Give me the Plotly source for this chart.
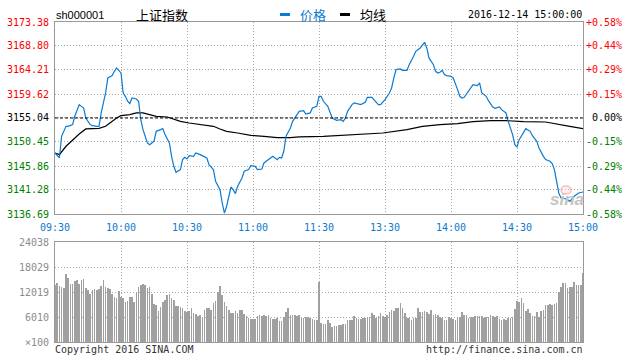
import plotly.graph_objects as go

# ---------------- data ----------------
preclose = 3155.04
price_ticks = [3136.69, 3141.28, 3145.86, 3150.45, 3155.04, 3159.62, 3164.21, 3168.80, 3173.38]
pct_labels = ["-0.58%", "-0.44%", "-0.29%", "-0.15%", "0.00%", "+0.15%", "+0.29%", "+0.44%", "+0.58%"]
time_ticks = [0, 30, 60, 90, 120, 150, 180, 210, 240]
time_labels = ["09:30", "10:00", "10:30", "11:00", "11:30", "13:30", "14:00", "14:30", "15:00"]
vol_ticks = [6010, 12019, 18029, 24038]
vol_labels = ["6010", "12019", "18029", "24038"]

price_min = [0, 2, 3, 5, 6, 8, 9, 11, 13, 14, 16, 17, 19, 20, 21, 23, 24, 26, 27, 28,
             30, 31, 32, 33, 34, 35, 37, 38, 39, 40, 42, 43, 45, 46, 48, 49, 50, 52, 53, 54,
             55, 57, 58, 59, 60, 61, 63, 64, 66, 67, 69, 70, 72, 73, 75, 76, 77, 78, 79, 80,
             81, 82, 83, 85, 86, 88, 89, 91, 92, 94, 95, 98, 99, 101, 102, 103, 104, 105, 107, 108,
             110, 111, 113, 114, 116, 117, 119, 120, 121, 122, 124, 125, 126, 128, 130, 131, 132, 133, 135, 136,
             138, 139, 141, 142, 144, 145, 147, 148, 150, 152, 153, 154, 155, 157, 158, 160, 161, 163, 164, 166,
             167, 168, 169, 170, 172, 173, 174, 175, 176, 177, 178, 180, 181, 182, 183, 184, 185, 186, 188, 189,
             190, 192, 193, 194, 196, 197, 199, 200, 202, 203, 205, 206, 208, 209, 210, 211, 213, 214, 216, 217,
             219, 220, 222, 223, 225, 226, 227, 228, 229, 230, 231, 233, 234, 236, 237, 238, 240]
price = [3148.35, 3147.40, 3151.54, 3153.45, 3153.45, 3153.77, 3155.36, 3157.59, 3156.95, 3155.04,
         3153.77, 3153.57, 3153.45, 3153.45, 3156.00, 3159.82, 3162.68, 3163.13, 3163.96, 3164.60,
         3163.64, 3159.82, 3159.18, 3158.23, 3157.78, 3158.86, 3158.67, 3158.23, 3154.72, 3152.81,
         3150.26, 3149.94, 3150.58, 3152.49, 3152.81, 3153.00, 3151.86, 3150.26, 3147.71, 3145.80,
         3144.66, 3145.17, 3147.08, 3147.52, 3147.20, 3147.84, 3147.71, 3148.35, 3148.03, 3147.84,
         3147.40, 3146.12, 3145.17, 3142.94, 3141.34, 3138.80, 3136.88, 3138.16, 3139.75, 3141.85,
         3141.34, 3140.58, 3141.98, 3143.57, 3144.85, 3145.17, 3145.93, 3145.80, 3145.17, 3145.29,
         3146.44, 3147.40, 3147.71, 3147.08, 3147.52, 3147.40, 3148.67, 3151.54, 3153.13, 3154.40,
         3155.68, 3156.31, 3156.44, 3155.80, 3156.00, 3156.95, 3157.27, 3159.18, 3159.18, 3158.23,
         3157.27, 3156.31, 3155.04, 3154.59, 3154.72, 3154.40, 3155.04, 3156.31, 3157.59, 3157.91,
         3157.78, 3157.59, 3158.03, 3158.99, 3158.99, 3158.54, 3157.59, 3157.59, 3158.54, 3159.82,
         3160.77, 3162.68, 3164.28, 3164.40, 3164.15, 3164.15, 3165.23, 3166.83, 3167.78, 3168.42,
         3169.05, 3169.50, 3168.42, 3166.51, 3165.23, 3163.96, 3163.64, 3163.77, 3164.15, 3163.32,
         3163.13, 3163.00, 3162.68, 3161.73, 3160.45, 3159.18, 3158.86, 3158.99, 3160.14, 3160.77,
         3161.41, 3161.22, 3161.73, 3159.82, 3159.18, 3158.35, 3157.14, 3156.89, 3157.14, 3156.63,
         3156.00, 3154.40, 3151.86, 3149.94, 3149.50, 3150.90, 3152.17, 3153.00, 3152.49, 3151.66,
         3150.58, 3149.31, 3147.71, 3147.08, 3146.76, 3146.31, 3145.17, 3142.62, 3140.71, 3139.75,
         3139.75, 3139.43, 3139.11, 3140.07, 3140.39, 3140.71, 3140.90]

avg_min = [0, 2, 5, 8, 11, 14, 17, 20, 23, 25, 28, 30, 34, 37, 40, 43, 46, 51, 54, 57,
           61, 66, 72, 75, 78, 83, 89, 95, 101, 107, 111, 122, 137, 149, 160, 167, 175, 183, 190, 198,
           205, 213, 223, 228, 234, 240]
avg = [3148.35, 3148.03, 3149.63, 3150.90, 3151.98, 3152.94, 3153.00, 3153.07, 3153.45, 3154.08,
       3155.04, 3155.49, 3155.68, 3156.00, 3156.00, 3155.68, 3155.36, 3155.23, 3154.85, 3154.40,
       3154.08, 3153.77, 3153.45, 3152.94, 3152.49, 3152.17, 3151.73, 3151.54, 3151.28, 3151.28,
       3151.41, 3151.54, 3151.86, 3152.17, 3152.81, 3153.45, 3153.77, 3153.96, 3154.34, 3154.53,
       3154.53, 3154.34, 3154.27, 3153.96, 3153.45, 3153.00]

volume = [13700, 14100, 13540, 13300, 13060, 16270, 15470, 13940, 13940,
          14660, 14900, 13940, 14900, 15140, 12900, 12500, 11460, 12500, 12740,
          12500, 12740, 13540, 14900, 13300, 12900, 12660, 11460, 10900,
          10660, 12260, 10900, 10500, 9700, 9940, 10740, 10740, 9700,
          11940, 13140, 13700, 13940, 13700, 12900, 13140, 11460, 9130,
          8890, 7530, 8490, 9700, 10100, 11300, 11460, 10500, 10100, 8650,
          8650, 8330, 8090, 7450, 7130, 7450, 8250, 6890, 6650,
          6250, 6490, 6090, 7690, 8250, 8250, 7690, 9300, 9860,
          11940, 13540, 11300, 9700, 8730, 7690, 7050, 7050, 7450,
          6890, 7690, 7690, 6730, 6250, 5850, 5530, 5530, 5450, 6330,
          6490, 6330, 6490, 6330, 6490, 5690, 5450, 5530, 5690,
          5050, 5130, 6090, 7130, 8250, 6490, 6490, 6490, 6330,
          6490, 5850, 5850, 6090, 6090, 5690, 5530, 5290, 5290,
          14340,
          4490, 4250, 4250, 5210, 4490, 3530, 3930, 3850, 4090, 4090, 4250, 4250, 5290, 5290, 5290,
          6250, 5690, 5530, 5530, 5690, 5850, 6090, 6090, 6890, 6490, 5850, 6330, 6890, 6330, 6090,
          6490, 7130, 7690, 7450, 8250, 8250, 9300, 8250, 6890, 5850, 5850, 5290, 5850, 5850, 8090,
          7290, 7290, 7450, 7130, 6650, 7690, 6490, 6730, 6490, 6090, 5850, 5290, 5290, 6090, 5850,
          5530, 5290, 6090, 6090, 7290, 6490, 6490, 5690, 6090, 6090, 6250, 6250, 6250, 6250, 5850,
          6090, 6090, 6490, 6250, 6090, 6330, 5530, 5290, 5530, 5290, 5690, 5850, 6090, 7930, 9940,
          9700, 10500, 9300, 7450, 7930, 6890, 6330, 6330, 7290, 6090, 7450, 7690, 8890, 8890, 9050,
          8890, 9130, 9300, 12100, 13300, 14260, 14260, 13060, 13300, 13140, 14500,
          13700, 13700, 13700, 16670]
minutes = list(range(len(volume)))

# ---------------- style ----------------
BLUE = "#0b7ad1"
RED = "#ff0000"
GREEN = "#008000"
GRID = "#a8a8a8"
FRAME = "#999999"
MONO = "DejaVu Sans Mono"

W, H = 638, 361
L, R, T, B = 55, 55, 22, 19
PW, PH = W - L - R, H - T - B


def px(x, y):
    """pixel -> paper coords"""
    return (x - L) / PW, (H - B - y) / PH


fig = go.Figure()
fig.add_trace(go.Bar(x=minutes, y=volume, width=0.34, marker=dict(color="#a0a0a0", line_width=0),
                     xaxis="x2", yaxis="y2", showlegend=False))
fig.add_trace(go.Scatter(x=avg_min, y=avg, mode="lines", line=dict(color="black", width=1.2),
                         xaxis="x", yaxis="y", showlegend=False))
fig.add_trace(go.Scatter(x=price_min, y=price, mode="lines", line=dict(color=BLUE, width=1.2),
                         xaxis="x", yaxis="y", showlegend=False))

axis_common = dict(showgrid=True, gridcolor=GRID, griddash="1px,2px", gridwidth=1,
                   showline=True, linecolor=FRAME, linewidth=1, mirror=True,
                   zeroline=False, ticks="")
main_bottom = px(0, 214)[1]
vol_top = px(0, 242)[1]

fig.update_layout(
    width=W, height=H, margin=dict(l=L, r=R, t=T, b=B),
    paper_bgcolor="white", plot_bgcolor="white",
    bargap=0,
    xaxis=dict(domain=[0, 1], range=[0, 240], anchor="y", tickmode="array",
               tickvals=time_ticks, ticktext=time_labels,
               tickfont=dict(family=MONO, size=10, color=BLUE), ticklabelstandoff=4,
               **axis_common),
    yaxis=dict(domain=[main_bottom, 1], range=[price_ticks[0], price_ticks[-1]], anchor="x",
               tickmode="array", tickvals=price_ticks, showticklabels=False, **axis_common),
    xaxis2=dict(domain=[0, 1], range=[0, 240], anchor="y2", tickmode="array",
                tickvals=time_ticks, showticklabels=False, **axis_common),
    yaxis2=dict(domain=[0, vol_top], range=[0, vol_ticks[-1]], anchor="x2",
                tickmode="array", tickvals=vol_ticks, showticklabels=False, **axis_common),
)

# pre-close dashed line
fig.add_shape(type="line", xref="x", yref="y", x0=0, x1=240, y0=preclose, y1=preclose,
              line=dict(color="black", width=1, dash="3px,2px"))

ann = []
# left price labels & right percent labels
for i, (v, p) in enumerate(zip(price_ticks, pct_labels)):
    col = GREEN if v < preclose else (RED if v > preclose else "black")
    ann.append(dict(xref="paper", yref="y", x=0, y=v, xanchor="right", yanchor="middle",
                    xshift=-4, text=f"{v:.2f}", showarrow=False,
                    font=dict(family=MONO, size=10, color=col)))
    ann.append(dict(xref="paper", yref="y", x=1, y=v, xanchor="right", yanchor="middle",
                    xshift=41, text=p, showarrow=False,
                    font=dict(family=MONO, size=10, color=col)))
# volume labels
for v, t in zip(vol_ticks, vol_labels):
    ann.append(dict(xref="paper", yref="y2", x=0, y=v, xanchor="right", yanchor="middle",
                    xshift=-4, text=t, showarrow=False,
                    font=dict(family=MONO, size=10, color="#8c8c8c")))
ann.append(dict(xref="paper", yref="y2", x=0, y=0, xanchor="right", yanchor="middle",
                xshift=-4, text="×100", showarrow=False,
                font=dict(family=MONO, size=10, color="#8c8c8c")))


def text_at(x, y, text, anchor, size, color, family):
    xp, yp = px(x, y)
    ann.append(dict(xref="paper", yref="paper", x=xp, y=yp, xanchor=anchor, yanchor="middle",
                    text=text, showarrow=False, font=dict(family=family, size=size, color=color)))


text_at(54, 15, "sh000001", "left", 11, "black", "Liberation Sans")
text_at(162, 15, "上证指数", "center", 13, "black", "Noto Sans CJK SC")
text_at(298, 15, "价格", "left", 13, BLUE, "Noto Sans CJK SC")
text_at(358, 15, "均线", "left", 13, "black", "Noto Sans CJK SC")
text_at(584, 15, "2016-12-14 15:00:00", "right", 10, "black", MONO)
text_at(53, 349, "Copyright 2016 SINA.COM", "left", 10, "#333333", MONO)
text_at(585, 349, "http://finance.sina.com.cn", "right", 10, "#333333", MONO)
text_at(567, 199, "<b><i>sina</i></b>", "center", 17, "#c4c4c4", "Liberation Sans")
fig.update_layout(annotations=ann)

# legend dashes
for x0, x1, c in [(280, 290, BLUE), (340, 350, "black")]:
    a0, yy = px(x0, 14.5)
    a1, _ = px(x1, 14.5)
    fig.add_shape(type="line", xref="paper", yref="paper", x0=a0, x1=a1, y0=yy, y1=yy,
                  line=dict(color=c, width=3))
# watermark eye
cx0, cy0 = px(561, 186)
cx1, cy1 = px(571, 194)
fig.add_shape(type="circle", xref="paper", yref="paper", x0=cx0, x1=cx1, y0=cy1, y1=cy0,
              line=dict(color="rgba(235,120,120,0.45)", width=1.5), fillcolor="rgba(255,200,200,0.25)")

fig.write_html("out.html")
